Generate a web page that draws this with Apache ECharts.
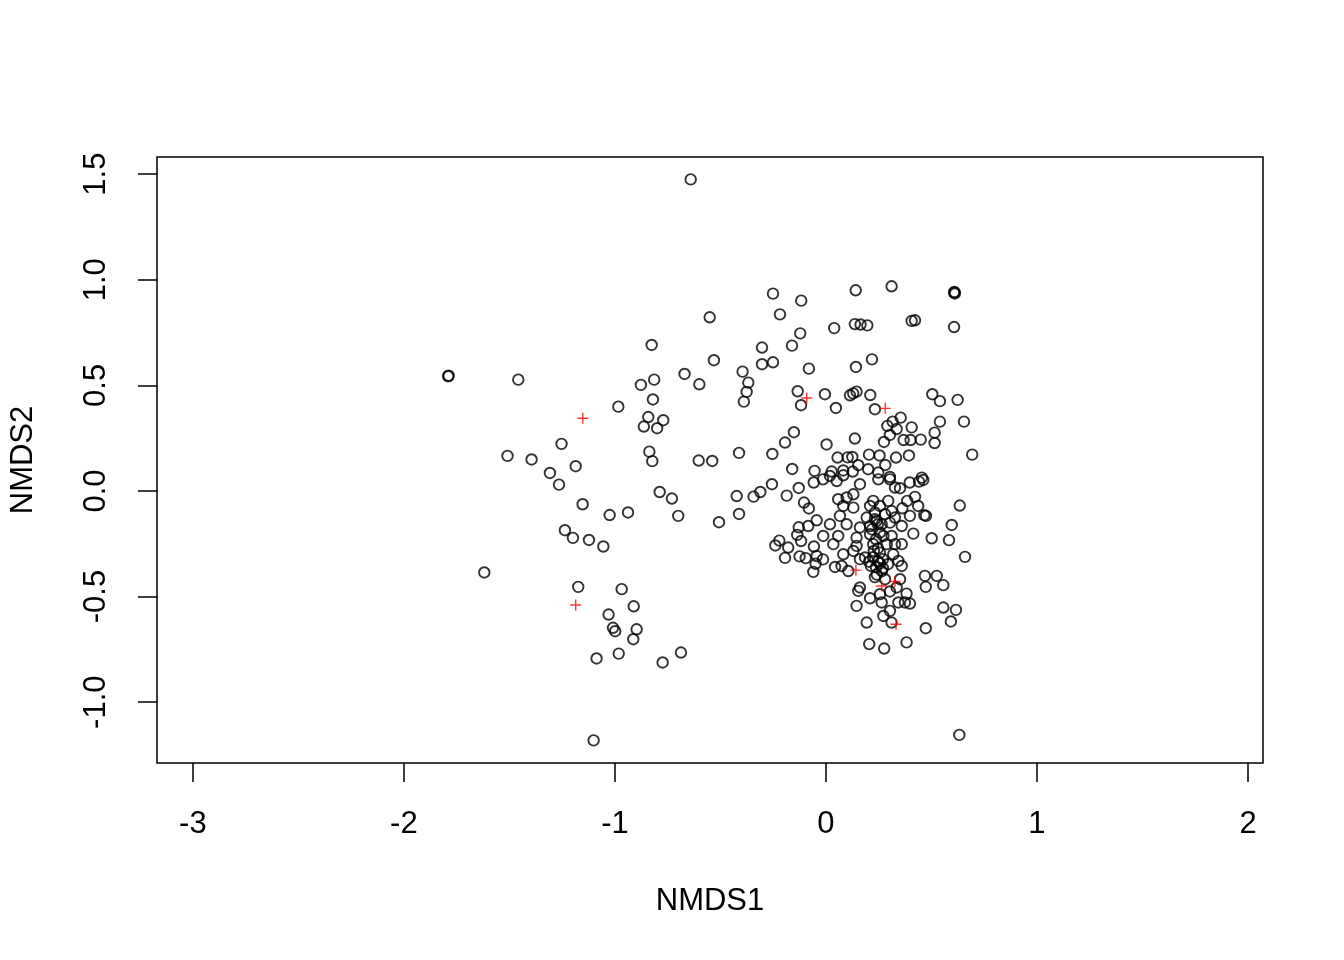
<!DOCTYPE html>
<html lang="en">
<head>
    <meta charset="UTF-8">
    <title>NMDS</title>
    <script src="https://cdn.jsdelivr.net/npm/echarts@6/dist/echarts.min.js"></script>
    <style>
        html, body { margin: 0; padding: 0; background: #fff; }
        #main { width: 1344px; height: 960px; }
    </style>
</head>
<body>
<div id="main"></div>
<script>
    // site scores (black circles)
    var nmds1 = [
        -1.790, -1.788, -1.458, -1.619, -1.509, -1.395, -1.308, -1.265, -1.253, -1.186,
        -1.153, -1.237, -1.199, -1.123, -1.055, -1.025, -0.938, -1.174, -0.968, -0.911,
        -1.030, -1.009, -0.999, -0.897, -0.913, -0.982, -1.087, -1.101, -0.774, -0.687,
        -0.984, -0.877, -0.826, -0.814, -0.820, -0.842, -0.771, -0.863, -0.800, -0.837,
        -0.823, -0.641, -0.551, -0.531, -0.670, -0.600, -0.603, -0.539, -0.788, -0.730,
        -0.700, -0.507, -0.251, -0.117, -0.218, -0.122, -0.303, -0.161, -0.303, -0.251,
        -0.081, -0.395, -0.368, -0.376, -0.389, -0.134, -0.118, -0.152, -0.194, -0.412,
        -0.254, -0.160, -0.054, -0.058, -0.423, -0.412, -0.343, -0.311, -0.256, -0.186,
        -0.129, -0.104, -0.081, -0.044, -0.129, -0.084, -0.136, -0.118, -0.221, -0.240,
        -0.179, -0.057, -0.194, -0.125, -0.096, -0.049, -0.060,
        0.141, 0.311, 0.607, 0.611, 0.609, 0.039, 0.137, 0.164, 0.196, 0.406,
        0.422, 0.607, 0.218, 0.142, -0.005, 0.114, 0.129, 0.145, 0.210, 0.504,
        0.540, 0.624, 0.047, 0.232, 0.354, 0.316, 0.291, 0.335, 0.406, 0.540,
        0.654, 0.303, 0.515, 0.137, 0.275, 0.368, 0.401, 0.449, 0.515, 0.003,
        0.055, 0.103, 0.125, 0.204, 0.254, 0.332, 0.393, 0.693, 0.027, 0.082,
        0.153, 0.200, 0.281, 0.127, 0.248, 0.303, 0.454, 0.461, 0.441, 0.397,
        0.351, 0.422, 0.385, 0.362, 0.437, 0.398, 0.466, 0.474, 0.634, 0.596,
        0.501, 0.583, 0.414, 0.359, 0.359, 0.659, -0.014, 0.019, 0.051, 0.082,
        0.161, 0.248, 0.303, 0.327, 0.058, 0.098, 0.130, 0.130, 0.082, 0.209,
        0.224, 0.256, 0.295, 0.311, 0.280, 0.232, 0.193, 0.240, 0.264, 0.303,
        0.327, 0.209, 0.019, 0.066, 0.098, 0.161, -0.013, 0.058, 0.035, 0.145,
        0.145, 0.209, 0.224, 0.272, 0.311, 0.288, 0.327, 0.256, 0.319, -0.044,
        0.082, 0.130, -0.014, 0.043, 0.074, 0.106, 0.161, 0.185, 0.223, 0.246,
        0.270, 0.294, 0.237, 0.265, 0.232, 0.280, 0.161, 0.153, 0.209, 0.264,
        0.303, 0.256, 0.335, 0.343, 0.145, 0.303, 0.272, 0.311, 0.193, 0.343,
        0.359, 0.351, 0.469, 0.525, 0.473, 0.556, 0.382, 0.374, 0.398, 0.556,
        0.616, 0.592, 0.473, 0.382, 0.205, 0.276, 0.632,
        0.232, 0.246, 0.218, 0.256, 0.237, 0.246, 0.227, 0.256, 0.213, 0.204,
        0.270, 0.241
    ];
    var nmds2 = [
        0.543, 0.546, 0.527, -0.386, 0.166, 0.149, 0.085, 0.030, 0.223, 0.117,
        -0.063, -0.186, -0.222, -0.232, -0.263, -0.114, -0.102, -0.454, -0.465, -0.546,
        -0.585, -0.648, -0.664, -0.655, -0.702, -0.770, -0.793, -1.181, -0.812, -0.765,
        0.399, 0.502, 0.691, 0.527, 0.433, 0.350, 0.335, 0.305, 0.297, 0.186,
        0.141, 1.475, 0.822, 0.619, 0.554, 0.505, 0.144, 0.142, -0.005, -0.036,
        -0.118, -0.148, 0.934, 0.901, 0.836, 0.746, 0.679, 0.688, 0.600, 0.609,
        0.579, 0.565, 0.513, 0.469, 0.423, 0.472, 0.406, 0.278, 0.229, 0.180,
        0.175, 0.104, 0.095, 0.040, -0.024, -0.109, -0.027, -0.005, 0.032, -0.022,
        0.014, -0.055, -0.083, -0.139, -0.172, -0.166, -0.208, -0.237, -0.235, -0.258,
        -0.268, -0.263, -0.317, -0.310, -0.318, -0.345, -0.383,
        0.950, 0.969, 0.939, 0.935, 0.942, 0.771, 0.790, 0.788, 0.784, 0.805,
        0.808, 0.776, 0.623, 0.587, 0.458, 0.453, 0.462, 0.470, 0.454, 0.458,
        0.425, 0.431, 0.393, 0.387, 0.347, 0.328, 0.308, 0.293, 0.301, 0.328,
        0.328, 0.265, 0.276, 0.248, 0.232, 0.241, 0.241, 0.243, 0.227, 0.220,
        0.158, 0.159, 0.161, 0.172, 0.168, 0.158, 0.168, 0.172, 0.092, 0.097,
        0.122, 0.103, 0.123, 0.092, 0.087, 0.066, 0.063, 0.052, 0.044, 0.040,
        0.013, -0.028, -0.047, -0.082, -0.071, -0.118, -0.115, -0.118, -0.069, -0.161,
        -0.224, -0.233, -0.202, -0.166, -0.252, -0.312, 0.055, 0.071, 0.047, 0.074,
        0.032, 0.055, 0.055, 0.016, -0.039, -0.031, -0.016, -0.079, -0.071, -0.071,
        -0.047, -0.071, -0.047, -0.095, -0.110, -0.102, -0.126, -0.142, -0.158, -0.150,
        -0.126, -0.166, -0.158, -0.118, -0.158, -0.173, -0.213, -0.213, -0.252, -0.221,
        -0.260, -0.205, -0.252, -0.213, -0.213, -0.252, -0.252, -0.292, -0.300, -0.308,
        -0.300, -0.284, -0.324, -0.360, -0.355, -0.379, -0.323, -0.315, -0.314, -0.333,
        -0.323, -0.347, -0.361, -0.380, -0.408, -0.418, -0.457, -0.473, -0.508, -0.528,
        -0.476, -0.489, -0.457, -0.528, -0.544, -0.568, -0.592, -0.623, -0.623, -0.331,
        -0.355, -0.418, -0.402, -0.402, -0.454, -0.446, -0.486, -0.528, -0.533, -0.552,
        -0.563, -0.618, -0.650, -0.717, -0.725, -0.746, -1.155,
        -0.134, -0.158, -0.182, -0.197, -0.229, -0.272, -0.284, -0.343, -0.355, -0.335,
        -0.365, -0.396
    ];
    // species scores (red crosses)
    var spX = [-1.152, -0.091, 0.281, -1.186, 0.142, 0.264, 0.327, 0.332];
    var spY = [0.344, 0.440, 0.391, -0.540, -0.375, -0.450, -0.429, -0.631];

    var xTicks = [-3, -2, -1, 0, 1, 2];
    var yTicks = [-1.0, -0.5, 0.0, 0.5, 1.0, 1.5];

    var sites = nmds1.map(function (v, i) { return [v, nmds2[i]]; });
    var species = spX.map(function (v, i) { return [v, spY[i]]; });

    var font = 'Liberation Sans, Arial, sans-serif';

    var option = {
        animation: false,
        backgroundColor: '#fff',
        textStyle: { fontFamily: font, color: '#000' },
        grid: {
            left: 157, top: 157, right: 81, bottom: 197,
            show: true, borderColor: '#000', borderWidth: 1.5,
            backgroundColor: 'transparent'
        },
        xAxis: {
            type: 'value',
            min: -3.17, max: 2.071,
            name: 'NMDS1',
            nameLocation: 'middle',
            nameGap: 123,
            nameTextStyle: { fontFamily: font, fontSize: 31, color: '#000' },
            axisLine: { show: false, onZero: false },
            splitLine: { show: false },
            axisTick: { show: true, inside: false, length: 19, customValues: xTicks,
                lineStyle: { color: '#000', width: 1.5 } },
            axisLabel: { customValues: xTicks, margin: 46, fontFamily: font, fontSize: 31, color: '#000' }
        },
        yAxis: {
            type: 'value',
            min: -1.288, max: 1.581,
            name: 'NMDS2',
            nameLocation: 'middle',
            nameGap: 118,
            nameTextStyle: { fontFamily: font, fontSize: 31, color: '#000' },
            axisLine: { show: false, onZero: false },
            splitLine: { show: false },
            axisTick: { show: true, inside: false, length: 19, customValues: yTicks,
                lineStyle: { color: '#000', width: 1.5 } },
            axisLabel: { customValues: yTicks, rotate: 90, margin: 45, fontFamily: font, fontSize: 31, color: '#000',
                formatter: function (v) { return v.toFixed(1); } }
        },
        series: [
            {
                type: 'scatter',
                data: sites,
                symbol: 'circle',
                symbolSize: 10.5,
                itemStyle: { color: 'transparent', borderColor: '#000', borderWidth: 1.9 },
                silent: true
            },
            {
                type: 'scatter',
                data: species,
                symbol: 'path://M0,5L10,5M5,0L5,10',
                symbolSize: 11,
                itemStyle: { color: 'none', borderColor: '#ff0000', borderWidth: 1.4 },
                silent: true
            }
        ]
    };

    var myChart = echarts.init(document.getElementById('main'));
    myChart.setOption(option);
</script>
</body>
</html>
